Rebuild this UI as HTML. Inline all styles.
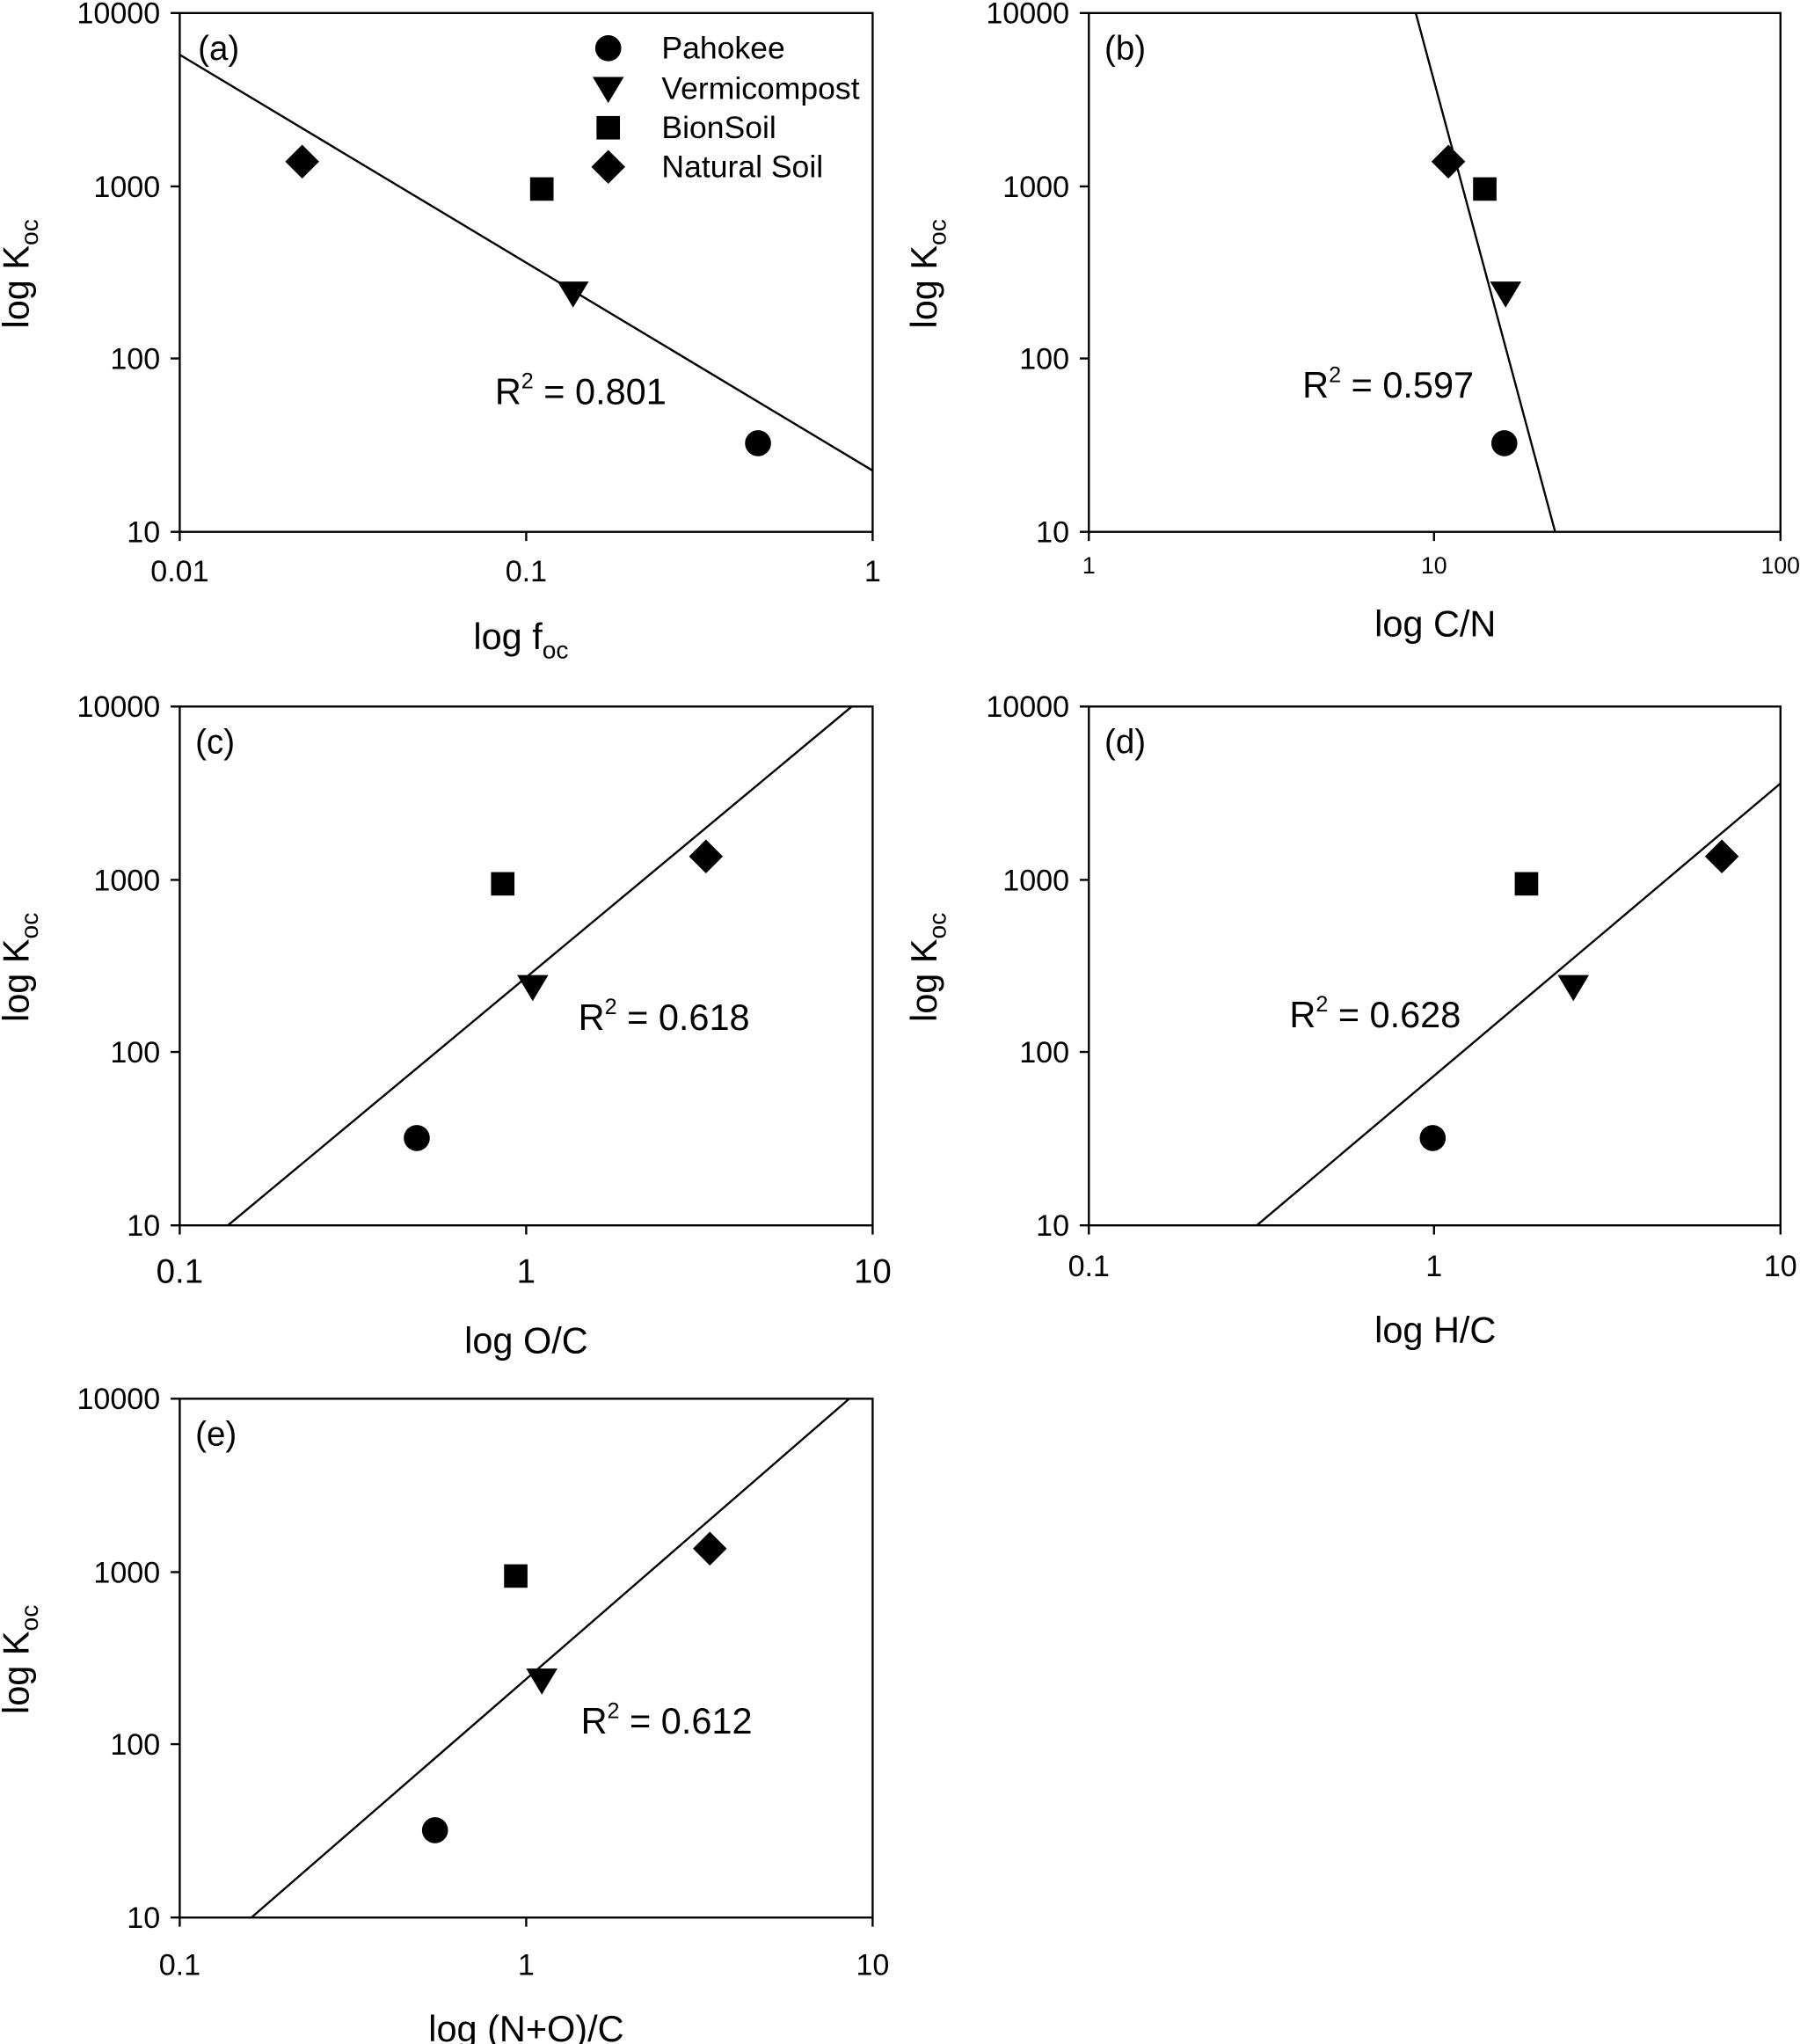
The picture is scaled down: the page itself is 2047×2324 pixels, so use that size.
<!DOCTYPE html>
<html><head><meta charset="utf-8"><style>html,body{margin:0;padding:0;background:#fff}svg{display:block}</style></head>
<body>
<svg width="2047" height="2324" viewBox="0 0 1382 1568" preserveAspectRatio="none" xmlns="http://www.w3.org/2000/svg" font-family="Liberation Sans, Arial, sans-serif" fill="#000">
<g stroke="#000" stroke-width="1.6" fill="none">
<rect x="138" y="10" width="532" height="398"/>
<path d="M131 10h7M131 143h7M131 275h7M131 408h7M138 408v7M404 408v7M670 408v7"/>
<path d="M138 42L670 361"/>
<rect x="836" y="10" width="531" height="398"/>
<path d="M829 10h7M829 143h7M829 275h7M829 408h7M836 408v7M1101 408v7M1367 408v7"/>
<path d="M1087 10L1194 408"/>
<rect x="138" y="542" width="532" height="398"/>
<path d="M131 542h7M131 675h7M131 807h7M131 940h7M138 940v7M404 940v7M670 940v7"/>
<path d="M175 940L654 542"/>
<rect x="836" y="542" width="531" height="398"/>
<path d="M829 542h7M829 675h7M829 807h7M829 940h7M836 940v7M1101 940v7M1367 940v7"/>
<path d="M965 940L1367 601"/>
<rect x="138" y="1073" width="532" height="398"/>
<path d="M131 1073h7M131 1206h7M131 1338h7M131 1471h7M138 1471v7M404 1471v7M670 1471v7"/>
<path d="M193 1471L652 1073"/>
</g>
<defs>
<g id="ci"><circle r="10"/></g>
<g id="tr"><path d="M-12 -9H12L0 11Z"/></g>
<g id="sq"><rect x="-9" y="-9" width="18" height="18"/></g>
<g id="di"><path d="M0 -13L13 0L0 13L-13 0Z"/></g>
</defs>
<use href="#di" x="232" y="124"/><use href="#sq" x="416" y="145"/><use href="#tr" x="440" y="225"/><use href="#ci" x="582" y="340"/>
<use href="#ci" x="467" y="37"/><use href="#tr" x="467" y="68"/><use href="#sq" x="467" y="98"/><use href="#di" x="467" y="128"/>
<g font-size="24"><text x="508" y="45">Pahokee</text><text x="508" y="76">Vermicompost</text><text x="508" y="106">BionSoil</text><text x="508" y="136">Natural Soil</text></g>
<use href="#di" x="1112" y="124"/><use href="#sq" x="1140" y="145"/><use href="#tr" x="1156" y="225"/><use href="#ci" x="1155" y="340"/>
<use href="#di" x="542" y="657"/><use href="#sq" x="386" y="678"/><use href="#tr" x="409" y="757"/><use href="#ci" x="320" y="873"/>
<use href="#di" x="1322" y="657"/><use href="#sq" x="1172" y="678"/><use href="#tr" x="1208" y="757"/><use href="#ci" x="1100" y="873"/>
<use href="#di" x="545" y="1188"/><use href="#sq" x="396" y="1209"/><use href="#tr" x="416" y="1289"/><use href="#ci" x="334" y="1404"/>

<g font-size="23" text-anchor="end">
<text x="123" y="18">10000</text><text x="123" y="151">1000</text><text x="123" y="283">100</text><text x="123" y="416">10</text>
<text x="821" y="18">10000</text><text x="821" y="151">1000</text><text x="821" y="283">100</text><text x="821" y="416">10</text>
<text x="123" y="550">10000</text><text x="123" y="683">1000</text><text x="123" y="815">100</text><text x="123" y="948">10</text>
<text x="821" y="550">10000</text><text x="821" y="683">1000</text><text x="821" y="815">100</text><text x="821" y="948">10</text>
<text x="123" y="1081">10000</text><text x="123" y="1214">1000</text><text x="123" y="1346">100</text><text x="123" y="1479">10</text>
</g>
<g font-size="23" text-anchor="middle">
<text x="138" y="446">0.01</text><text x="404" y="446">0.1</text><text x="670" y="446">1</text>
<text x="138" y="984" font-size="26">0.1</text><text x="404" y="984" font-size="26">1</text><text x="670" y="984" font-size="26">10</text>
<text x="836" y="979">0.1</text><text x="1101" y="979">1</text><text x="1367" y="979">10</text>
<text x="138" y="1515">0.1</text><text x="404" y="1515">1</text><text x="670" y="1515">10</text>
</g>
<g font-size="18" text-anchor="middle"><text x="836" y="440">1</text><text x="1101" y="440">10</text><text x="1367" y="440">100</text></g>
<g font-size="28" text-anchor="middle">
<text x="400" y="498">log f<tspan font-size="19" dy="7">oc</tspan></text>
<text x="1102" y="488">log C/N</text>
<text x="404" y="1038">log O/C</text>
<text x="1102" y="1030">log H/C</text>
<text x="404" y="1566">log (N+O)/C</text>
</g>
<g font-size="28">
<text transform="translate(22,252) rotate(-90)">log K<tspan font-size="19" dy="7">oc</tspan></text>
<text transform="translate(719,252) rotate(-90)">log K<tspan font-size="19" dy="7">oc</tspan></text>
<text transform="translate(22,784) rotate(-90)">log K<tspan font-size="19" dy="7">oc</tspan></text>
<text transform="translate(719,784) rotate(-90)">log K<tspan font-size="19" dy="7">oc</tspan></text>
<text transform="translate(22,1315) rotate(-90)">log K<tspan font-size="19" dy="7">oc</tspan></text>
</g>
<g font-size="26">
<text x="152" y="46">(a)</text><text x="848" y="46">(b)</text><text x="150" y="578">(c)</text><text x="848" y="578">(d)</text><text x="150" y="1109">(e)</text>
</g>
<g font-size="28">
<text x="380" y="310">R<tspan font-size="17" dy="-12">2</tspan><tspan dy="12"> = 0.801</tspan></text>
<text x="1000" y="305">R<tspan font-size="17" dy="-12">2</tspan><tspan dy="12"> = 0.597</tspan></text>
<text x="444" y="790">R<tspan font-size="17" dy="-12">2</tspan><tspan dy="12"> = 0.618</tspan></text>
<text x="990" y="788">R<tspan font-size="17" dy="-12">2</tspan><tspan dy="12"> = 0.628</tspan></text>
<text x="446" y="1330">R<tspan font-size="17" dy="-12">2</tspan><tspan dy="12"> = 0.612</tspan></text>
</g>
</svg>
</body></html>
